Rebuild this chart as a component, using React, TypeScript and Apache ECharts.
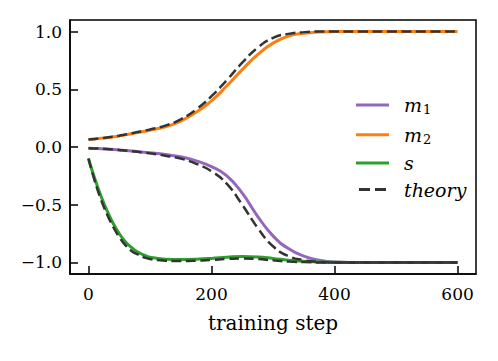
import React, { useEffect, useRef } from "react";
import * as echarts from "echarts";

const steps = [0, 10, 20, 30, 40, 50, 60, 70, 80, 90, 100, 125, 150, 175, 200, 225, 250, 275, 300, 325, 350, 375, 400, 450, 500, 550, 600];

const m1 = [-0.01, -0.012, -0.015, -0.018, -0.021, -0.025, -0.03, -0.035, -0.04, -0.045, -0.05, -0.065, -0.085, -0.12, -0.17, -0.25, -0.4, -0.6, -0.77, -0.88, -0.945, -0.98, -0.995, -1.0, -1.0, -1.0, -1.0];
const m2 = [0.065, 0.07, 0.075, 0.08, 0.088, 0.095, 0.105, 0.115, 0.125, 0.135, 0.145, 0.175, 0.225, 0.3, 0.4, 0.53, 0.67, 0.8, 0.9, 0.96, 0.985, 0.996, 1.0, 1.0, 1.0, 1.0, 1.0];
const sVals = [-0.1, -0.27, -0.42, -0.55, -0.66, -0.75, -0.82, -0.87, -0.91, -0.935, -0.955, -0.972, -0.975, -0.972, -0.965, -0.955, -0.948, -0.952, -0.965, -0.98, -0.99, -0.996, -0.999, -1.0, -1.0, -1.0, -1.0];

const m1Theory = [-0.01, -0.012, -0.015, -0.018, -0.022, -0.026, -0.031, -0.036, -0.042, -0.048, -0.055, -0.075, -0.1, -0.145, -0.21, -0.32, -0.5, -0.7, -0.86, -0.945, -0.98, -0.995, -1.0, -1.0, -1.0, -1.0, -1.0];
const m2Theory = [0.065, 0.07, 0.076, 0.082, 0.09, 0.098, 0.108, 0.118, 0.13, 0.14, 0.152, 0.185, 0.24, 0.325, 0.44, 0.58, 0.73, 0.86, 0.945, 0.98, 0.995, 1.0, 1.0, 1.0, 1.0, 1.0, 1.0];
const sTheory = [-0.1, -0.29, -0.45, -0.58, -0.69, -0.78, -0.85, -0.9, -0.93, -0.955, -0.97, -0.985, -0.988, -0.985, -0.978, -0.97, -0.965, -0.97, -0.982, -0.992, -0.997, -1.0, -1.0, -1.0, -1.0, -1.0, -1.0];

const xTicks = [0, 200, 400, 600];
const yTicks = [-1, -0.5, 0, 0.5, 1];
const legendNames = ["m1", "m2", "s", "theory"];

const SERIF = "DejaVu Serif";

const pairs = (vals: number[]) => steps.map((x, i) => [x, vals[i]]);

export default function App() {
  const ref = useRef<HTMLDivElement>(null);
  useEffect(() => {
    if (!ref.current) return;
    const chart = echarts.init(ref.current, null, { renderer: "svg" });
    const solid = (name: string, color: string, vals: number[]) => ({
      type: "line",
      name,
      data: pairs(vals),
      showSymbol: false,
      smooth: true,
      color,
      lineStyle: { color, width: 3 },
      z: 2,
    });
    const dashed = (vals: number[]) => ({
      type: "line",
      name: "theory",
      data: pairs(vals),
      showSymbol: false,
      smooth: true,
      color: "#333333",
      lineStyle: { color: "#333333", width: 2.5, type: [10, 4.5] },
      z: 3,
    });
    chart.setOption({
      animation: false,
      backgroundColor: "#ffffff",
      grid: {
        left: 70,
        top: 20,
        right: 22,
        bottom: 87,
        show: true,
        borderColor: "#000",
        borderWidth: 1.5,
        backgroundColor: "transparent",
      },
      xAxis: {
        type: "value",
        min: -30,
        max: 630,
        name: "training step",
        nameLocation: "middle",
        nameGap: 39,
        nameTextStyle: { fontFamily: SERIF, fontSize: 20, color: "#000" },
        axisLine: { show: true, onZero: false, lineStyle: { color: "#000", width: 1.5 } },
        axisTick: { show: true, inside: true, length: 8, customValues: xTicks, lineStyle: { color: "#000", width: 1.5 } },
        axisLabel: { customValues: xTicks, fontFamily: SERIF, fontSize: 17, color: "#000", margin: 11 },
        splitLine: { show: false },
      },
      yAxis: {
        type: "value",
        min: -1.1,
        max: 1.1,
        axisLine: { show: true, onZero: false, lineStyle: { color: "#000", width: 1.5 } },
        axisTick: { show: true, inside: true, length: 8, customValues: yTicks, lineStyle: { color: "#000", width: 1.5 } },
        axisLabel: {
          customValues: yTicks,
          fontFamily: SERIF,
          fontSize: 17,
          color: "#000",
          margin: 8,
          formatter: (v: number) => (v < 0 ? "\u2212" : "") + Math.abs(v).toFixed(1),
        },
        splitLine: { show: false },
      },
      legend: {
        left: 351,
        top: 89,
        orient: "vertical",
        selectedMode: false,
        itemWidth: 33,
        itemHeight: 3,
        itemGap: 7.7,
        data: legendNames.map((n) =>
          n === "theory"
            ? { name: n, icon: "path://M0,0h11v3h-11z M16,0h11v3h-11z" }
            : { name: n, icon: "rect" }
        ),
        formatter: (name: string) => {
          if (name === "m1") return "{i|m}{s|1}";
          if (name === "m2") return "{i|m}{s|2}";
          return "{i|" + name + "}";
        },
        textStyle: {
          padding: [0, 0, 0, 10],
          fontFamily: SERIF,
          fontSize: 19,
          color: "#000",
          rich: {
            i: { fontFamily: SERIF, fontStyle: "italic", fontSize: 19, lineHeight: 22, color: "#000" },
            s: { fontFamily: SERIF, fontSize: 13, lineHeight: 22, verticalAlign: "bottom", padding: [9, 0, 0, 1], color: "#000" },
          },
        },
      },
      series: [
        solid("m1", "#9467bd", m1),
        solid("m2", "#ff7f0e", m2),
        solid("s", "#2ca02c", sVals),
        dashed(m1Theory),
        dashed(m2Theory),
        dashed(sTheory),
      ],
    });
    return () => chart.dispose();
  }, []);
  return <div ref={ref} style={{ position: "absolute", left: 0, top: 0, width: 498, height: 361 }} />;
}
